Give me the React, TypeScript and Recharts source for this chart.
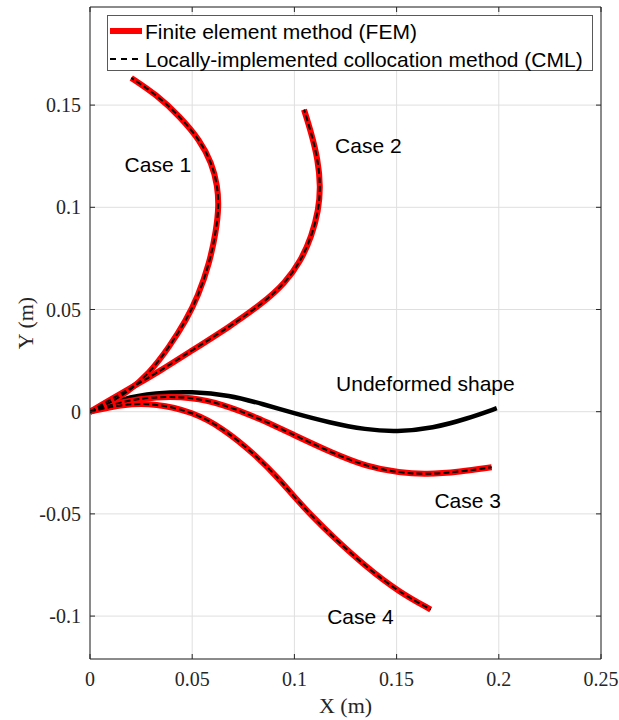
import {
  CartesianGrid,
  Legend,
  Line,
  LineChart,
  ReferenceDot,
  XAxis,
  YAxis,
} from "recharts";

type Pt = [number, number];

// axis setup (axis equal, x fixed to 0..0.25)
const xTicks = [0, 0.05, 0.1, 0.15, 0.2, 0.25];
const yTicks = [-0.1, -0.05, 0, 0.05, 0.1, 0.15];
const xDomain: [number, number] = [0, 0.25];
const yDomain: [number, number] = [-0.121, 0.198];

// shapes, in metres
const undeformed: Pt[] = [
  [0, 0], [0.016, 0.0066], [0.032, 0.0092], [0.05, 0.0099], [0.068, 0.0082],
  [0.085, 0.0036], [0.1, -0.0008], [0.117, -0.0053], [0.135, -0.0088],
  [0.15, -0.0099], [0.168, -0.008], [0.184, -0.0036], [0.199, 0.0017],
];

const case1: Pt[] = [
  [0, 0], [0.0079, 0.0033], [0.0177, 0.009], [0.0291, 0.0188], [0.0389, 0.0318],
  [0.0471, 0.0449], [0.0528, 0.0563], [0.0585, 0.0727], [0.0618, 0.089],
  [0.063, 0.1004], [0.0624, 0.1105], [0.0596, 0.1216], [0.0538, 0.1328],
  [0.0442, 0.1442], [0.0324, 0.1552], [0.0202, 0.1633],
];

const case2: Pt[] = [
  [0, 0], [0.0095, 0.0057], [0.021, 0.0122], [0.0324, 0.0188], [0.0503, 0.0302],
  [0.0683, 0.0416], [0.0846, 0.0531], [0.0955, 0.063], [0.103, 0.0735],
  [0.1085, 0.086], [0.1118, 0.0985], [0.1128, 0.1102], [0.1115, 0.1233],
  [0.1083, 0.1363], [0.1047, 0.1478],
];

const case3: Pt[] = [
  [0, 0], [0.0161, 0.0052], [0.0324, 0.0074], [0.0499, 0.0071], [0.065, 0.0036],
  [0.0814, -0.0027], [0.0998, -0.0114], [0.1181, -0.02], [0.1353, -0.0269],
  [0.1516, -0.0299], [0.1646, -0.0307], [0.181, -0.0294], [0.1965, -0.0272],
];

const case4: Pt[] = [
  [0, 0], [0.0161, 0.0038], [0.0324, 0.004], [0.0499, 0], [0.065, -0.008],
  [0.0814, -0.0215], [0.093, -0.0335], [0.1, -0.0418], [0.109, -0.0515],
  [0.1181, -0.0605], [0.1353, -0.0762], [0.1516, -0.0885], [0.1667, -0.0968],
];

const cases = [case1, case2, case3, case4];

const femName = "Finite element method (FEM)";
const cmlName = "Locally-implemented collocation method (CML)";

const notes = [
  { text: "Case 1", x: 0.0332, y: 0.1208 },
  { text: "Case 2", x: 0.1362, y: 0.13 },
  { text: "Undeformed shape", x: 0.1641, y: 0.0139 },
  { text: "Case 3", x: 0.1848, y: -0.0436 },
  { text: "Case 4", x: 0.1323, y: -0.1 },
];

const toRows = (pts: Pt[]) => pts.map(([x, y]) => ({ x, y }));

const axisColor = "#262626";
const tickFont = { fontFamily: "Liberation Serif", fontSize: 20, fill: axisColor };
const sans = "Liberation Sans";

function LegendBox() {
  return (
    <svg width={486} height={56} style={{ display: "block" }}>
      <rect x={0.5} y={0.5} width={485} height={55} fill="#fff" stroke="#595959" />
      <line x1={3} x2={35} y1={16} y2={16} stroke="#ff0000" strokeWidth={6} />
      <line x1={3} x2={35} y1={44} y2={44} stroke="#000" strokeWidth={2} strokeDasharray="6 5" />
      <text x={38} y={16} dominantBaseline="central" fontFamily={sans} fontSize={21} fill="#000">
        {femName}
      </text>
      <text x={38} y={44} dominantBaseline="central" fontFamily={sans} fontSize={21} fill="#000">
        {cmlName}
      </text>
    </svg>
  );
}

function YTitle() {
  return (
    <text
      x={25}
      y={323}
      transform="rotate(-90, 25, 323)"
      textAnchor="middle"
      dominantBaseline="central"
      fontFamily="Liberation Serif"
      fontSize={22}
      fill={axisColor}
    >
      Y (m)
    </text>
  );
}

export default function App() {
  return (
    <div style={{ width: 619, height: 720, background: "#fff" }}>
      <style>{"body{margin:0}"}</style>
      <LineChart width={619} height={720} margin={{ top: 6, right: 17, bottom: 0, left: 0 }}>
        <CartesianGrid stroke="#dfdfdf" />
        <XAxis
          type="number"
          dataKey="x"
          domain={xDomain}
          ticks={xTicks}
          allowDataOverflow
          height={61}
          tickSize={-5}
          tickMargin={18}
          stroke={axisColor}
          tick={tickFont}
          label={{
            value: "X (m)",
            position: "insideBottom",
            offset: 7,
            fontFamily: "Liberation Serif",
            fontSize: 22,
            fill: axisColor,
          }}
        />
        <XAxis
          xAxisId="top"
          orientation="top"
          type="number"
          dataKey="x"
          domain={xDomain}
          ticks={xTicks}
          allowDataOverflow
          height={1}
          tickSize={-5}
          tickFormatter={() => ""}
          stroke={axisColor}
        />
        <YAxis
          type="number"
          dataKey="y"
          domain={yDomain}
          ticks={yTicks}
          allowDataOverflow
          width={90}
          tickSize={-5}
          tickMargin={14}
          stroke={axisColor}
          tick={tickFont}
          label={() => <YTitle />}
        />
        <YAxis
          yAxisId="right"
          orientation="right"
          type="number"
          dataKey="y"
          domain={yDomain}
          ticks={yTicks}
          allowDataOverflow
          width={1}
          tickSize={-5}
          tickFormatter={() => ""}
          stroke={axisColor}
        />
        {/* invisible twin so the top/right box axes get drawn */}
        <Line
          xAxisId="top"
          yAxisId="right"
          data={toRows(undeformed)}
          dataKey="y"
          stroke="none"
          dot={false}
          activeDot={false}
          legendType="none"
          isAnimationActive={false}
        />
        <Line
          data={toRows(undeformed)}
          dataKey="y"
          type="basis"
          stroke="#000"
          strokeWidth={4.5}
          dot={false}
          activeDot={false}
          legendType="none"
          isAnimationActive={false}
        />
        {cases.map((pts, i) => (
          <Line
            key={`fem${i}`}
            data={toRows(pts)}
            dataKey="y"
            name={i === 0 ? femName : undefined}
            type="basis"
            stroke="#ff0000"
            strokeWidth={6}
            dot={false}
            activeDot={false}
            legendType={i === 0 ? "line" : "none"}
            isAnimationActive={false}
          />
        ))}
        {cases.map((pts, i) => (
          <Line
            key={`cml${i}`}
            data={toRows(pts)}
            dataKey="y"
            name={i === 0 ? cmlName : undefined}
            type="basis"
            stroke="#000"
            strokeWidth={2}
            strokeDasharray="6 3"
            dot={false}
            activeDot={false}
            legendType={i === 0 ? "line" : "none"}
            isAnimationActive={false}
          />
        ))}
        {notes.map((n) => (
          <ReferenceDot
            key={n.text}
            x={n.x}
            y={n.y}
            r={1}
            fill="none"
            stroke="none"
            ifOverflow="visible"
            label={{ value: n.text, position: "center", fontFamily: sans, fontSize: 21, fill: "#000" }}
          />
        ))}
        <Legend
          layout="horizontal"
          verticalAlign="middle"
          align="center"
          wrapperStyle={{ left: 107, top: 15, width: 486, height: 56 }}
          content={() => <LegendBox />}
        />
      </LineChart>
    </div>
  );
}
